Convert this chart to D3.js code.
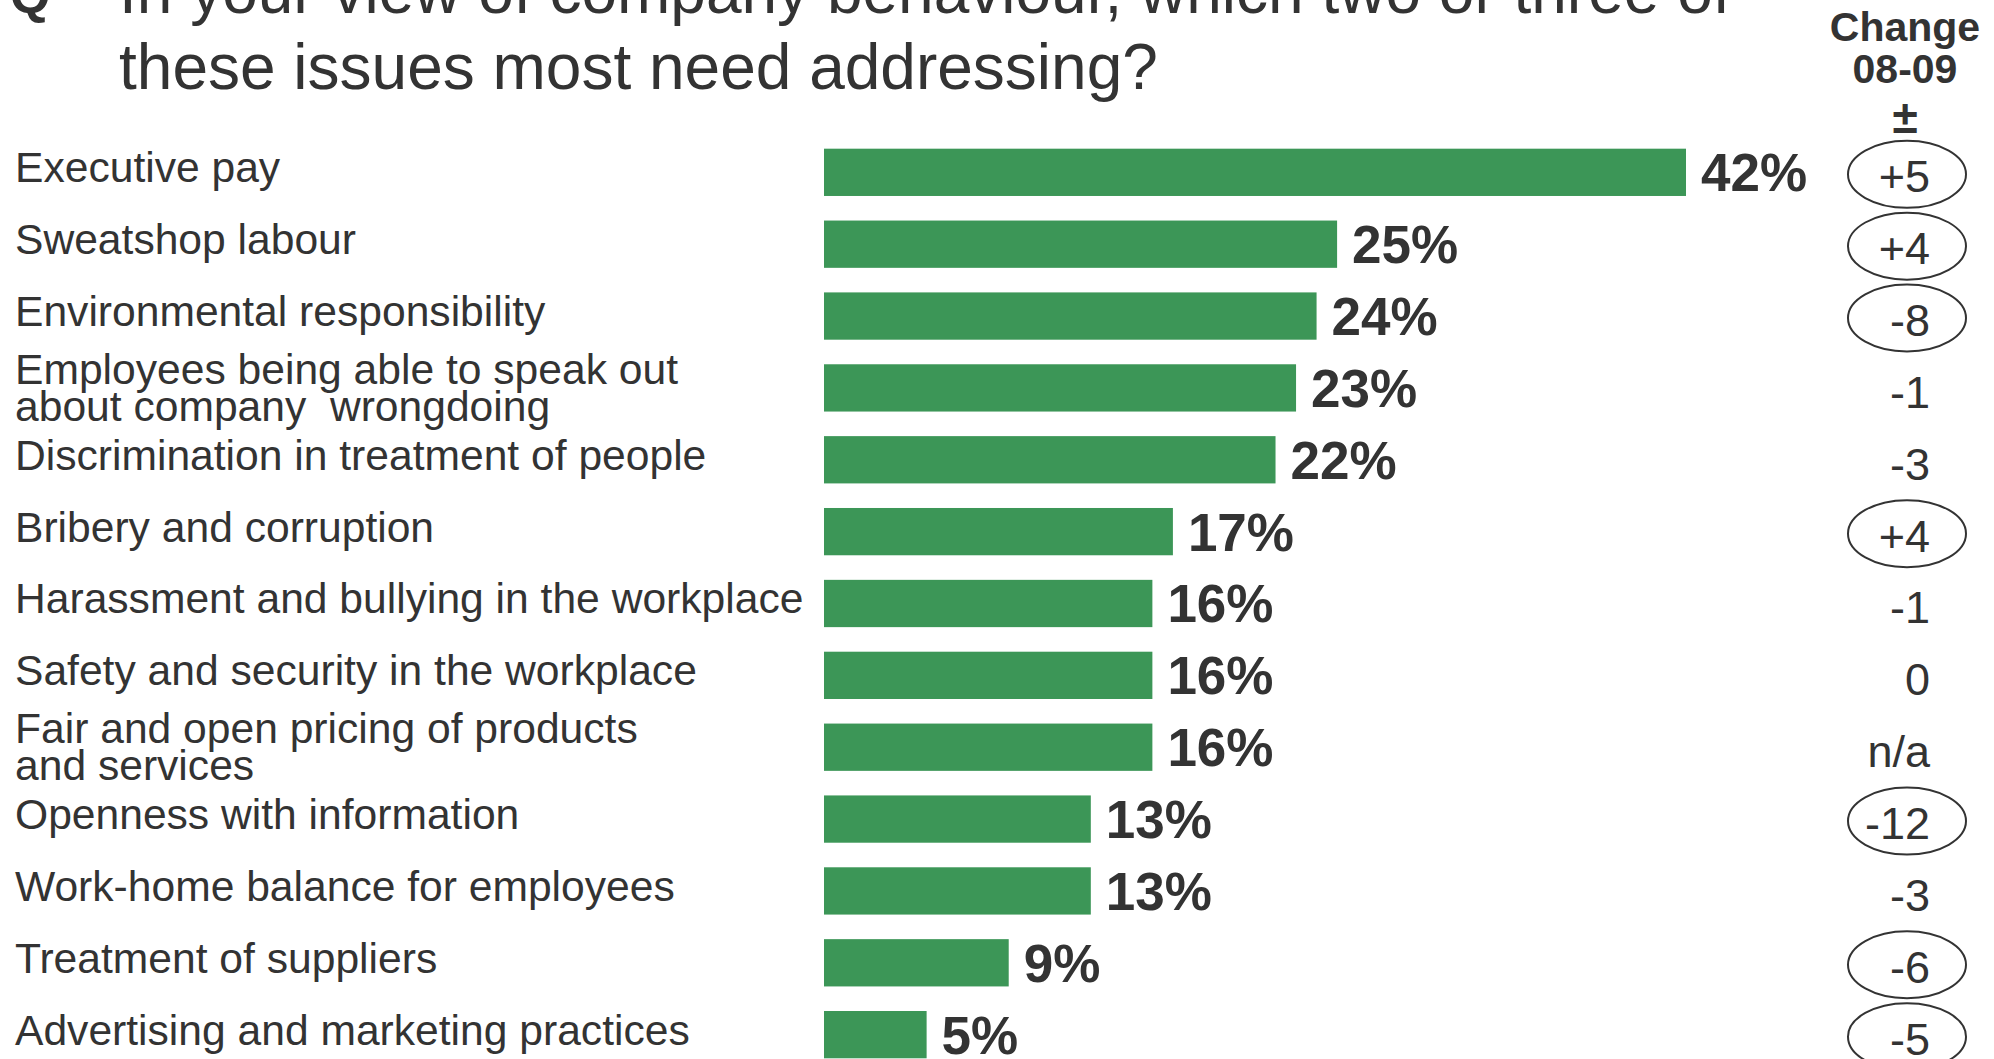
<!DOCTYPE html>
<html>
<head>
<meta charset="utf-8">
<script src="https://cdn.jsdelivr.net/npm/d3@7/dist/d3.min.js"></script>
<style>
  html, body { margin: 0; padding: 0; background: #ffffff; }
  svg { display: block; }
  text { font-family: "Liberation Sans", Arial, Helvetica, sans-serif; fill: #333333; }
</style>
</head>
<body>
<svg id="chart" width="1994" height="1059"></svg>
<script>
// Issues named as most needing attention (share of respondents, %)
const categories = [
  "Executive pay",
  "Sweatshop labour",
  "Environmental responsibility",
  "Employees being able to speak out\nabout company  wrongdoing",
  "Discrimination in treatment of people",
  "Bribery and corruption",
  "Harassment and bullying in the workplace",
  "Safety and security in the workplace",
  "Fair and open pricing of products\nand services",
  "Openness with information",
  "Work-home balance for employees",
  "Treatment of suppliers",
  "Advertising and marketing practices"
];
const values = [42, 25, 24, 23, 22, 17, 16, 16, 16, 13, 13, 9, 5];

// Change in points from 2008 to 2009; circled entries are the notable shifts
const changes = ["+5", "+4", "-8", "-1", "-3", "+4", "-1", "0", "n/a", "-12", "-3", "-6", "-5"];
const circled = [true, true, true, false, false, true, false, false, false, true, false, true, true];

const titleLines = [
  "In your view of company behaviour, which two or three of",
  "these issues most need addressing?"
];
const headerLines = ["Change", "08-09", "\u00B1"];

const svg = d3.select("#chart");
const barColor = "#3c9657";

const x = d3.scaleLinear().domain([0, 42]).range([824, 1686]);
const y = d3.scaleBand()
  .domain(d3.range(categories.length))
  .range([136.4, 136.4 + 13 * 71.86])
  .paddingInner(0.342)
  .paddingOuter(0.171);
const mid = i => y(i) + y.bandwidth() / 2;

// Question heading
svg.append("text")
  .attr("x", 10).attr("y", 13)
  .attr("font-size", 52).attr("font-weight", "bold")
  .text("Q");
svg.append("text")
  .attr("font-size", 64)
  .selectAll("tspan")
  .data(titleLines)
  .join("tspan")
  .attr("x", 119)
  .attr("y", (d, i) => 13 + i * 76)
  .text(d => d);

// Column header for the year-on-year change
svg.append("g")
  .selectAll("text")
  .data(headerLines)
  .join("text")
  .attr("x", 1905)
  .attr("y", (d, i) => [41, 83, 133][i])
  .attr("text-anchor", "middle")
  .attr("font-weight", "bold")
  .attr("font-size", (d, i) => i === 2 ? 46 : 41)
  .text(d => d);

// Category labels (some wrap onto two lines)
const labels = svg.append("g")
  .selectAll("text")
  .data(categories)
  .join("text")
  .attr("font-size", 42.6)
  .style("white-space", "pre");
labels.each(function (d, i) {
  const lines = d.split("\n");
  const t = d3.select(this);
  const first = lines.length > 1 ? mid(i) - 4 : mid(i) + 10;
  lines.forEach((line, k) => {
    t.append("tspan")
      .attr("x", 15)
      .attr("y", first + k * 37)
      .text(line);
  });
});

// Bars
svg.append("g")
  .selectAll("rect")
  .data(values)
  .join("rect")
  .attr("x", x(0))
  .attr("y", (d, i) => y(i))
  .attr("width", d => x(d) - x(0))
  .attr("height", y.bandwidth())
  .attr("fill", barColor);

// Value labels
svg.append("g")
  .selectAll("text")
  .data(values)
  .join("text")
  .attr("x", d => x(d) + 15)
  .attr("y", (d, i) => mid(i) + 19)
  .attr("font-size", 53)
  .attr("font-weight", "bold")
  .text(d => d + "%");

// Change column
svg.append("g")
  .selectAll("ellipse")
  .data(changes.map((c, i) => i).filter(i => circled[i]))
  .join("ellipse")
  .attr("cx", 1907)
  .attr("cy", i => mid(i) + 2)
  .attr("rx", 59)
  .attr("ry", 33.5)
  .attr("fill", "none")
  .attr("stroke", "#333333")
  .attr("stroke-width", 2);

svg.append("g")
  .selectAll("text")
  .data(changes)
  .join("text")
  .attr("x", 1930)
  .attr("y", (d, i) => mid(i) + 20)
  .attr("text-anchor", "end")
  .attr("font-size", 45)
  .text(d => d);
</script>
</body>
</html>
